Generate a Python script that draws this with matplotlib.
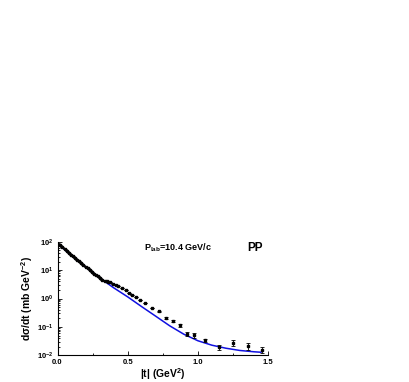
import numpy as np
import matplotlib.pyplot as plt
from matplotlib.ticker import MultipleLocator, LogLocator

plt.rcParams['font.family'] = ['Liberation Sans', 'DejaVu Sans']
plt.rcParams['font.weight'] = 'bold'
plt.rcParams['mathtext.fontset'] = 'custom'
plt.rcParams['mathtext.bf'] = 'Liberation Sans:bold'
plt.rcParams['mathtext.rm'] = 'Liberation Sans:bold'
plt.rcParams['mathtext.default'] = 'bf'

# experimental points |t|, dsigma/dt, error
t_data = [0.02, 0.035, 0.05, 0.065, 0.08, 0.095, 0.11, 0.125, 0.14, 0.155,
          0.17, 0.185, 0.2, 0.215, 0.23, 0.245, 0.26, 0.275, 0.29, 0.305,
          0.32, 0.335, 0.35, 0.36, 0.374, 0.398, 0.415, 0.434, 0.457, 0.486,
          0.51, 0.533, 0.557, 0.588, 0.624, 0.671, 0.72, 0.77, 0.823, 0.875,
          0.925, 0.973, 1.051, 1.151, 1.253, 1.356, 1.457]
y_data = [74, 63, 54, 47, 41, 35, 31, 27, 23.5, 20.5,
          17.8, 15.5, 13.3, 11.6, 10.1, 8.8, 7.6, 7.0, 6.2, 5.3,
          4.6, 4.2, 4.1, 3.9, 3.7, 3.3, 3.1, 2.7, 2.4, 1.95,
          1.6, 1.3, 1.15, 0.92, 0.71, 0.46, 0.36, 0.21, 0.16, 0.115,
          0.058, 0.052, 0.034, 0.0195, 0.028, 0.021, 0.016]
y_err = [0] * 36 + [0.02, 0.012, 0.01, 0.012,
                    0.011, 0.010, 0.005, 0.0035, 0.006, 0.006, 0.004]

# model curve
t_fit = [0.0, 0.1, 0.2, 0.3, 0.4, 0.5, 0.6, 0.7, 0.8, 0.9, 1.0, 1.1,
         1.2, 1.3, 1.4, 1.45]
y_fit = [85, 33, 13, 5.4, 2.4, 1.15, 0.52, 0.24, 0.11, 0.056, 0.033, 0.023,
         0.018, 0.015, 0.0135, 0.013]

fig = plt.figure(figsize=(4.09, 3.82), dpi=100)
ax = fig.add_axes([0.1406, 0.0694, 0.5147, 0.2979])

ax.plot(t_fit, y_fit, color='#1010e0', lw=1.1)
ax.errorbar(t_data, y_data, yerr=y_err, fmt='s', color='k', ms=1.8,
            elinewidth=0.6, capsize=1.5, capthick=0.6)

ax.set_yscale('log')
ax.set_xlim(0, 1.5)
ax.set_ylim(0.01, 100)
ax.xaxis.set_major_locator(MultipleLocator(0.5))
ax.xaxis.set_minor_locator(MultipleLocator(0.25))
ax.yaxis.set_major_locator(LogLocator(base=10, numticks=10))
ax.yaxis.set_minor_locator(LogLocator(base=10, subs=np.arange(2, 10), numticks=10))
ax.tick_params(which='both', direction='in', labelsize=5.5, width=0.6)
ax.tick_params(axis='x', pad=2.5)
ax.tick_params(axis='y', pad=3)
ax.tick_params(which='major', length=3)
ax.tick_params(which='minor', length=1.5)
for s in ['top', 'right']:
    ax.spines[s].set_visible(False)
for s in ['left', 'bottom']:
    ax.spines[s].set_linewidth(0.8)

ax.set_xlabel(r'|t| (GeV$^2$)', fontsize=7.5, fontweight='bold', labelpad=0)
ax.set_ylabel(r'd$\sigma$/dt (mb GeV$^{-2}$)', fontsize=7.5, fontweight='bold', labelpad=1)

ax.text(0.86, 62, r'P$_{lab}$=10.4 GeV/c', fontsize=6.5, fontweight='bold',
        ha='center', va='center')
ax.text(1.41, 62, 'PP', fontsize=8.5, fontweight='bold', ha='center', va='center')

fig.savefig('out.png', dpi=100)
